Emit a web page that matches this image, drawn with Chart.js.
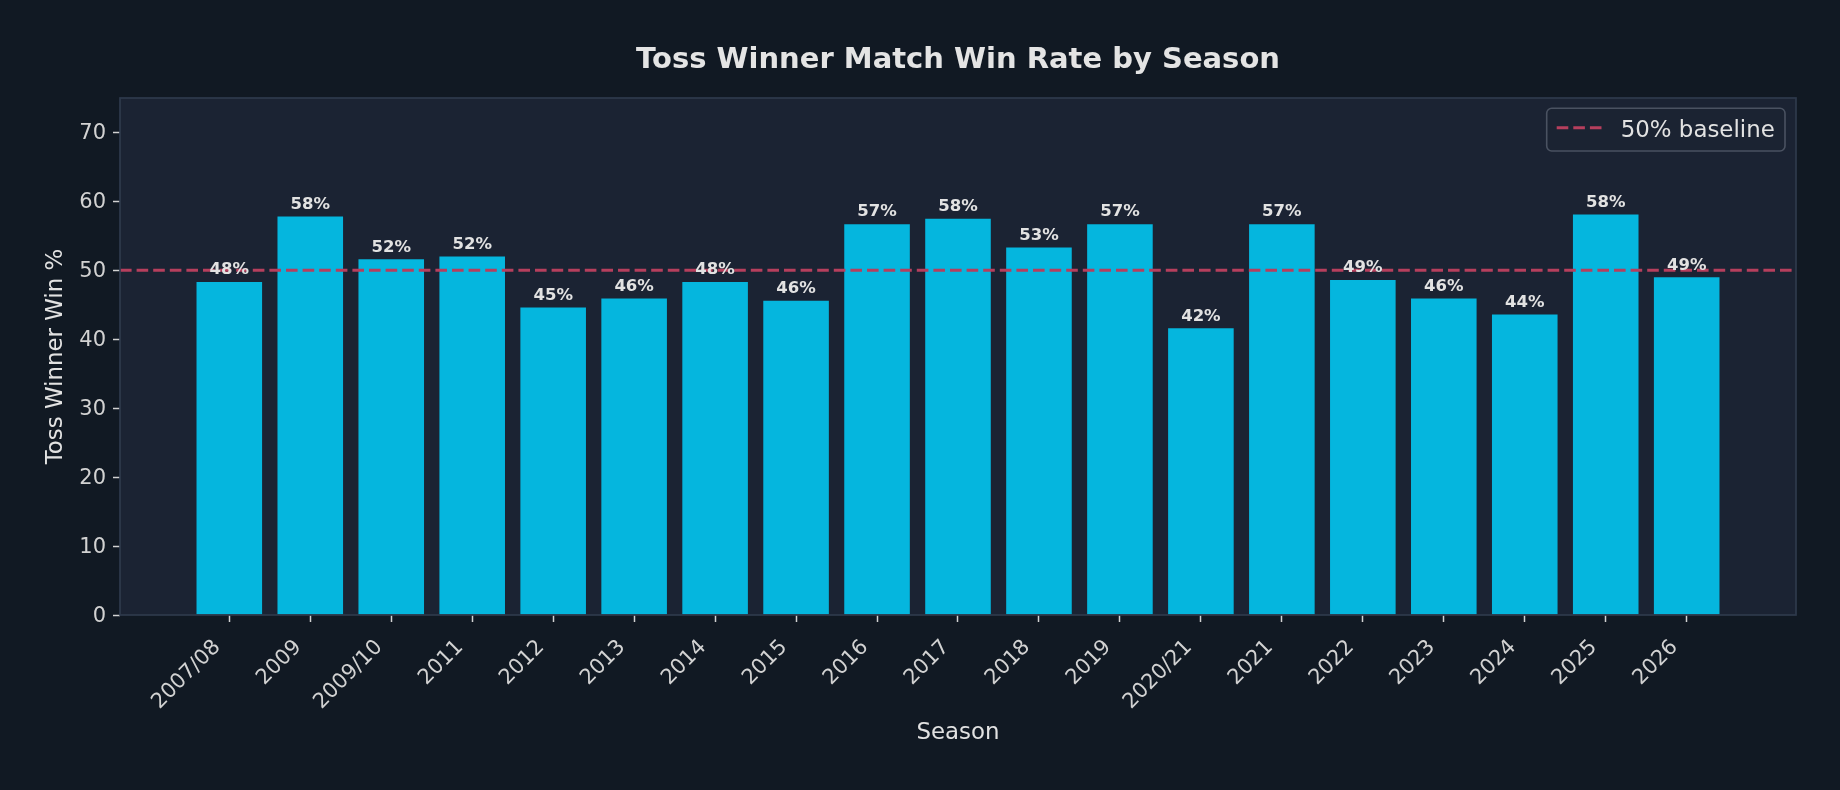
<!DOCTYPE html>
<html><head><meta charset="utf-8">
<script src="https://cdn.jsdelivr.net/npm/chart.js@4.4.1/dist/chart.umd.min.js"></script>
<style>html,body{margin:0;padding:0;background:#111923;}#wrap{width:1840px;height:790px;}</style>
</head><body><div id="wrap"><canvas id="c" width="1840" height="790"></canvas></div>
<script>
const seasons = ["2007/08","2009","2009/10","2011","2012","2013","2014","2015","2016","2017","2018","2019","2020/21","2021","2022","2023","2024","2025","2026"];
const winRates = [48.3,57.8,51.6,52.0,44.6,45.9,48.3,45.6,56.7,57.5,53.3,56.7,41.6,56.7,48.6,45.9,43.6,58.1,49.0];
const baselineValue = 50;
const baselineLabel = "50% baseline";
const yTickValues = [0,10,20,30,40,50,60,70];
const yLimits = [0, 75];
const xLimits = [-1.35, 19.35];
const titleText = "Toss Winner Match Win Rate by Season";
const xTitle = "Season";
const yTitle = "Toss Winner Win %";

const FONT = "'DejaVu Sans', sans-serif";
const BG = "#111923", PLOT_BG = "#1b2333", SPINE = "#2e3a4c";
const BAR = "#05b6de", BASE = "#b63f5d", TXT = "#e2e2e2", TICK = "#d2d2d2";

const barData = winRates.map((v, i) => ({x: i, y: v}));
const lineData = [{x: xLimits[0], y: baselineValue}, {x: xLimits[1], y: baselineValue}];

const decor = {
  id: 'decor',
  beforeDraw(chart) {
    const {ctx, chartArea: a} = chart;
    ctx.save();
    ctx.fillStyle = BG; ctx.fillRect(0, 0, chart.width, chart.height);
    ctx.fillStyle = PLOT_BG; ctx.fillRect(a.left, a.top, a.right - a.left, a.bottom - a.top);
    ctx.restore();
  },
  afterDatasetsDraw(chart) {
    const {ctx, chartArea: a} = chart;
    const xs = chart.scales.x, ys = chart.scales.y;
    ctx.save();
    ctx.strokeStyle = SPINE; ctx.lineWidth = 1.7;
    ctx.strokeRect(a.left, a.top, a.right - a.left, a.bottom - a.top);
    ctx.fillStyle = TXT; ctx.font = "bold 16.5px " + FONT;
    ctx.textAlign = "center"; ctx.textBaseline = "alphabetic";
    winRates.forEach((v, i) => {
      ctx.fillText(Math.round(v) + "%", xs.getPixelForValue(i), ys.getPixelForValue(v) - 7.7);
    });
    ctx.font = "bold 29px " + FONT;
    ctx.fillStyle = "#e4e4e4";
    ctx.fillText(titleText, (a.left + a.right) / 2, 67.7);
    const bw = 238.3, bh = 42.7;
    const bx = a.right - 11 - bw, by = a.top + 10.3;
    ctx.beginPath();
    ctx.roundRect(bx, by, bw, bh, 5);
    ctx.fillStyle = "rgba(27,35,51,0.85)"; ctx.fill();
    ctx.strokeStyle = "#4a5261"; ctx.lineWidth = 1.6; ctx.stroke();
    ctx.beginPath();
    ctx.setLineDash([11.6, 5]);
    ctx.strokeStyle = BASE; ctx.lineWidth = 3;
    ctx.moveTo(bx + 10, by + 19.4); ctx.lineTo(bx + 55.6, by + 19.4); ctx.stroke();
    ctx.setLineDash([]);
    ctx.fillStyle = TXT; ctx.font = "22.9px " + FONT; ctx.textAlign = "left";
    ctx.fillText(baselineLabel, bx + 74, by + 28.4);
    ctx.restore();
  }
};

new Chart(document.getElementById('c'), {
  type: 'bar',
  data: {
    datasets: [
      {type: 'line', label: baselineLabel, data: lineData, borderColor: BASE, borderWidth: 3,
       borderDash: [11.6, 5], pointRadius: 0, fill: false, order: 0},
      {type: 'bar', label: 'Win %', data: barData, backgroundColor: BAR, borderWidth: 0,
       barPercentage: 0.81, categoryPercentage: 1, order: 1}
    ]
  },
  options: {
    responsive: false, animation: false, devicePixelRatio: 1,
    layout: {padding: {left: 0, right: 44, top: 98, bottom: 0}},
    plugins: {legend: {display: false}, tooltip: {enabled: false}, title: {display: false}},
    scales: {
      x: {
        type: 'linear', min: xLimits[0], max: xLimits[1], offset: false,
        grid: {display: true, drawOnChartArea: false, drawTicks: true, tickLength: 7, tickColor: TICK, tickWidth: 1.5, offset: false},
        border: {display: false},
        afterBuildTicks: (ax) => { ax.ticks = seasons.map((_, i) => ({value: i})); },
        afterFit: (ax) => { ax.height = 175; },
        ticks: {autoSkip: false, maxRotation: 45, minRotation: 45, color: TICK, padding: 13, labelOffset: -12,
                font: {family: FONT, size: 21}, callback: (v) => seasons[v]},
        title: {display: true, text: xTitle, color: TXT, font: {family: FONT, size: 22.9}, padding: {top: 0, bottom: 43}}
      },
      y: {
        min: yLimits[0], max: yLimits[1],
        grid: {display: true, drawOnChartArea: false, drawTicks: true, tickLength: 7, tickColor: TICK, tickWidth: 1.5},
        border: {display: false},
        afterBuildTicks: (ax) => { ax.ticks = yTickValues.map(v => ({value: v})); },
        afterFit: (ax) => { ax.width = 120; },
        ticks: {color: TICK, padding: 7, labelOffset: 1.5, font: {family: FONT, size: 21}},
        title: {display: true, text: yTitle, color: TXT, font: {family: FONT, size: 22.9}, padding: {top: 42.4, bottom: 0}}
      }
    }
  },
  plugins: [decor]
});
</script></body></html>
